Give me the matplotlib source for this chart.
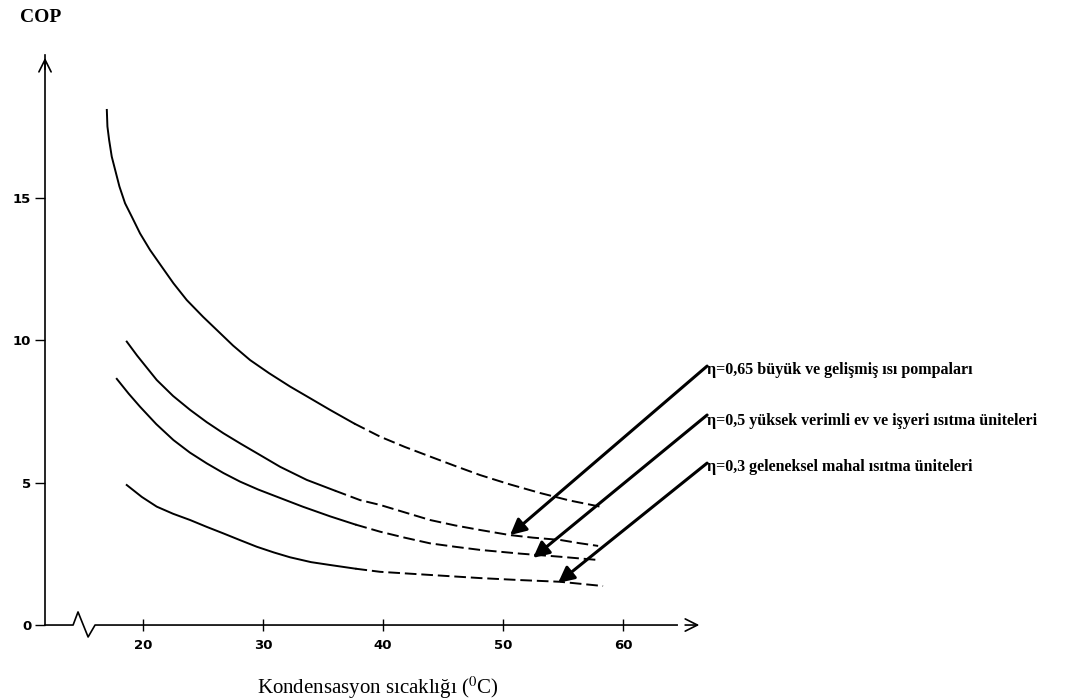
import numpy as np
from matplotlib import pyplot as plt

plt.rcParams['mathtext.fontset'] = 'stix'

# curves (condensation temperature, COP)
x1 = [16.98, 17.03, 17.17, 17.39, 17.67, 18.03, 18.50, 19.06, 19.75, 20.58, 21.56, 22.53, 23.64,
      25.0, 26.14, 27.5, 28.92, 30.5, 32.25, 34.0, 35.58, 37.6, 39.75, 41.8, 43.92, 46.0, 48.08,
      50.5, 53.08, 55.5, 58.08]
y1 = [18.10, 17.52, 17.05, 16.46, 16.00, 15.41, 14.82, 14.35, 13.76, 13.18, 12.59, 12.01, 11.42,
      10.83, 10.37, 9.82, 9.31, 8.85, 8.38, 7.95, 7.56, 7.08, 6.62, 6.26, 5.92, 5.59, 5.27,
      4.95, 4.64, 4.38, 4.16]

x2 = [18.64, 19.5, 20.3, 21.14, 22.5, 23.92, 25.3, 26.69, 28.1, 29.48, 31.42, 33.64, 36.0,
      38.08, 39.75, 43.92, 46.0, 48.08, 50.58, 52.5, 54.75, 56.3, 57.92]
y2 = [9.96, 9.47, 9.05, 8.61, 8.05, 7.56, 7.13, 6.74, 6.38, 6.04, 5.56, 5.10, 4.72,
      4.39, 4.22, 3.69, 3.50, 3.34, 3.16, 3.07, 2.99, 2.88, 2.78]

x3 = [17.81, 18.8, 19.75, 21.1, 22.53, 23.9, 25.31, 26.7, 28.08, 29.6, 31.14, 33.3, 35.58,
      37.7, 39.75, 41.8, 43.92, 46.0, 48.08, 51.4, 54.75, 56.4, 58.08]
y3 = [8.65, 8.13, 7.67, 7.06, 6.50, 6.06, 5.68, 5.34, 5.04, 4.76, 4.51, 4.16, 3.82,
      3.53, 3.28, 3.07, 2.87, 2.75, 2.64, 2.51, 2.40, 2.34, 2.28]

x4 = [18.64, 19.9, 21.14, 22.5, 23.92, 25.3, 26.69, 28.1, 29.48, 30.9, 32.25, 34.0, 35.58,
      37.7, 39.75, 43.92, 48.08, 51.4, 54.75, 58.33]
y4 = [4.92, 4.50, 4.16, 3.91, 3.69, 3.45, 3.22, 2.98, 2.75, 2.55, 2.38, 2.21, 2.11,
      1.98, 1.87, 1.76, 1.65, 1.58, 1.52, 1.37]

labels = ['η=0,65 büyük ve gelişmiş ısı pompaları',
          'η=0,5 yüksek verimli ev ve işyeri ısıtma üniteleri',
          'η=0,3 geleneksel mahal ısıtma üniteleri']
# arrow tips sit on the lower three curves
tips_x = [50.58, 52.5, 54.58]
tips_y = [3.16, 2.36, 1.48]
tails_x = [67.0, 67.0, 67.0]
tails_y = [9.10, 7.38, 5.69]
text_y = [8.96, 7.17, 5.55]

xticks = [20, 30, 40, 50, 60]
yticks = [0, 5, 10, 15]

fig = plt.figure(figsize=(10.9, 7), dpi=100)
ax = fig.add_axes([0.0413, 0.1071, 0.6028, 0.8143])
ax.set_xlim(11.83, 66.58)
ax.set_ylim(0, 20.03)

split = 38
for xs, ys in [(x1, y1), (x2, y2), (x3, y3), (x4, y4)]:
    xs = np.array(xs)
    ys = np.array(ys)
    k = (xs <= split).sum()
    ax.plot(xs[:k], ys[:k], color='black', lw=1.4, solid_joinstyle='round')
    ax.plot(xs[k - 1:], ys[k - 1:], color='black', lw=1.4, ls=(0, (6, 2.5)))

for tx, ty, hx, hy, lab, ly in zip(tails_x, tails_y, tips_x, tips_y, labels, text_y):
    ax.annotate('', xy=(hx, hy), xytext=(tx, ty), annotation_clip=False,
                arrowprops=dict(arrowstyle='-|>', lw=2.2, color='black', mutation_scale=24,
                                shrinkA=0, shrinkB=0))
    ax.text(tx, ly, lab, ha='left', va='center', fontsize=11.5, fontweight='bold',
            family='Liberation Serif', clip_on=False)

# axes: spines replaced by hand-drawn lines with arrows and a break
for s in ['top', 'right', 'bottom']:
    ax.spines[s].set_visible(False)
ax.spines['left'].set_linewidth(1.2)
ax.annotate('', xy=(0, 1.0), xycoords='axes fraction', xytext=(0, 0.97),
            arrowprops=dict(arrowstyle='->', lw=1.2, color='black', mutation_scale=22))
ax.annotate('', xy=(1.0, 0), xycoords='axes fraction', xytext=(0.97, 0),
            arrowprops=dict(arrowstyle='->', lw=1.2, color='black', mutation_scale=22))
ax.plot([11.83, 14.17, 14.58, 15.42, 16.0, 64.5], [0, 0, 0.46, -0.42, 0, 0],
        color='black', lw=1.2, clip_on=False)

ax.set_xticks(xticks)
ax.set_yticks(yticks)
ax.tick_params(axis='x', direction='inout', length=8, width=1, pad=6, labelsize=9.5)
ax.tick_params(axis='y', direction='out', length=7, width=1, pad=3, labelsize=9.5)
for t in ax.get_xticklabels() + ax.get_yticklabels():
    t.set_fontweight('bold')

fig.text(20 / 1090, 1 - 18 / 700, 'COP', ha='left', va='center', fontsize=14,
         fontweight='bold', family='Liberation Serif')
fig.text(378 / 1090, 1 - 688 / 700, 'Kondensasyon sıcaklığı ($^{0}$C)', ha='center', va='center',
         fontsize=15, family='Liberation Serif')

fig.savefig('out.png', dpi=100)
